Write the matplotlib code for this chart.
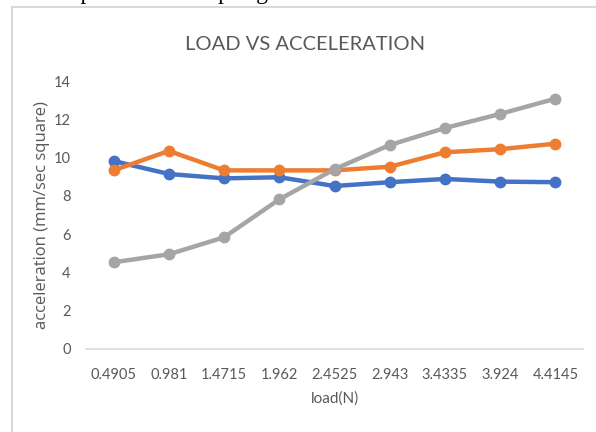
import matplotlib
matplotlib.use("Agg")
import matplotlib.pyplot as plt
from matplotlib.patches import Rectangle

loads = ["0.4905", "0.981", "1.4715", "1.962", "2.4525", "2.943", "3.4335", "3.924", "4.4145"]
series_blue = [9.83, 9.15, 8.92, 8.98, 8.52, 8.72, 8.89, 8.75, 8.72]
series_orange = [9.34, 10.36, 9.34, 9.34, 9.34, 9.53, 10.29, 10.45, 10.74]
series_gray = [4.52, 4.94, 5.83, 7.82, 9.40, 10.67, 11.56, 12.30, 13.10]
yticks = [0, 2, 4, 6, 8, 10, 12, 14]

font = ["Lato", "DejaVu Sans"]
txt = "#595959"

W, H = 596, 432
fig = plt.figure(figsize=(W / 100, H / 100), dpi=100)

# outer chart border (cut off at right and bottom)
fig.patches.append(Rectangle((12 / W, -0.05), 1.1, 1 - 7 / H + 0.05,
                             transform=fig.transFigure, fill=False,
                             edgecolor="#D9D9D9", linewidth=1.5))
# cut-off text line above the chart
fig.text(0.03, 1 + 1 / H, "the displacement of spring s.", family="Liberation Serif",
         fontsize=17, color="black", va="baseline", ha="left")

ax = fig.add_axes([86 / W, 1 - 348.5 / H, (583 - 86) / W, (348.5 - 81.5) / H])
x = list(range(len(loads)))
for vals, col in [(series_blue, "#4472C4"), (series_orange, "#ED7D31"), (series_gray, "#A5A5A5")]:
    ax.plot(x, vals, color=col, linewidth=3.2, marker="o", markersize=7.5,
            solid_capstyle="round", clip_on=False)

ax.set_xlim(-0.5, len(loads) - 0.5)
ax.set_ylim(0, 14)
ax.set_xticks(x)
ax.set_xticklabels(loads)
ax.set_yticks(yticks)
ax.set_yticklabels([str(v) for v in yticks])
for s in ["top", "right", "left"]:
    ax.spines[s].set_visible(False)
ax.spines["bottom"].set_color("#D9D9D9")
ax.spines["bottom"].set_linewidth(1.2)
ax.tick_params(length=0, labelsize=10.5, labelcolor=txt, pad=14)
ax.tick_params(axis="y", pad=11)
for lab in ax.get_xticklabels() + ax.get_yticklabels():
    lab.set_family(font)

ax.set_xlabel("load(N)", family=font, fontsize=11, color=txt, labelpad=7)
ax.set_ylabel("acceleration (mm/sec square)", family=["Open Sans", "DejaVu Sans"],
              fontsize=12, color=txt, labelpad=3)
fig.text(305 / W, 1 - 45 / H, "LOAD VS ACCELERATION", family=font, fontsize=14.5,
         color=txt, ha="center", va="center")

fig.savefig("out.png", dpi=100)
